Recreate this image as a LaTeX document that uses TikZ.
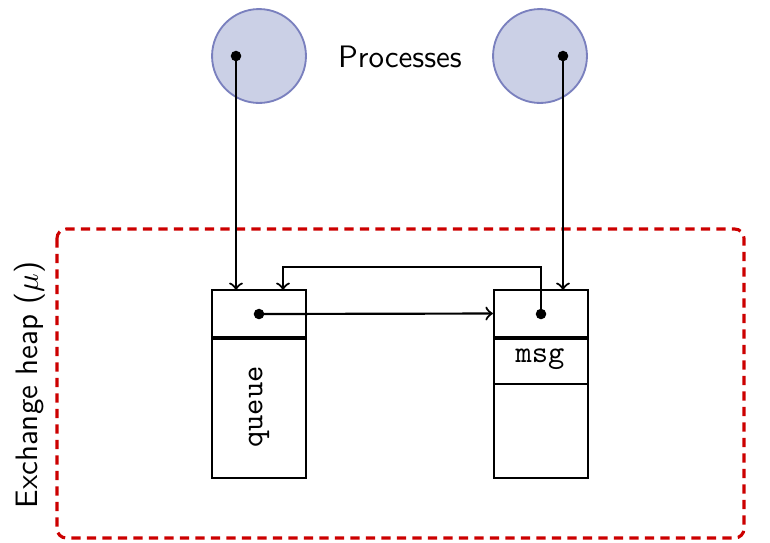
\documentclass[tikz,border=0pt]{standalone}
\usetikzlibrary{arrows}
\begin{document}
\begin{tikzpicture}[x=0.3226pt,y=-0.3226pt,
  proc/.style={circle,draw={rgb,255:red,122;green,128;blue,190},fill={rgb,255:red,203;green,208;blue,230},line width=0.6pt,minimum size=30.3pt,inner sep=0pt},
  cell/.style={draw,line width=0.75pt,minimum width=30.3pt,inner sep=0pt},
  conn/.style={line width=0.7pt,->},
  dotc/.style={circle,fill=black,inner sep=0pt,minimum size=3.4pt},
  lbl/.style={font=\sffamily}
]
\useasboundingbox (0,0) rectangle (770,542);
% exchange heap region
\draw[draw={rgb,255:red,204;green,0;blue,0},line width=1pt,dash pattern=on 3pt off 2pt,rounded corners=3pt] (57,229) rectangle (744,538);
\node[lbl,rotate=90] (heap) at (30,385) {Exchange heap ($\mu$)};
% processes
\node[proc] (p1) at (259,56) {};
\node[proc] (p2) at (540,56) {};
\node[lbl] (ptxt) at (400,57) {Processes};
\node[dotc] (d1) at (236,56) {};
\node[dotc] (d2) at (563,56) {};
% left box
\node[cell,minimum height=15.16pt] (lt) at (259,313.5) {};
\node[cell,minimum height=45.5pt] (lb) at (259,407.5) {};
\node[rotate=90,font=\ttfamily] (q) at (259,407) {queue};
% right box
\node[cell,minimum height=15.16pt] (rt) at (541,313.5) {};
\node[cell,minimum height=45.5pt] (rb) at (541,407.5) {};
\node[font=\ttfamily] (msg) at (540,359) {msg};
\draw[line width=0.4pt] (rb.west |- 0,384) -- (rb.east |- 0,384);
% dividers
\draw[line width=1.2pt] (lt.south west) -- (lt.south east);
\draw[line width=1.2pt] (rt.south west) -- (rt.south east);
% pointers
\node[dotc] (d3) at (259,314) {};
\node[dotc] (d4) at (541,314) {};
\coordinate (a1) at (236,290);
\coordinate (a2) at (563,290);
\coordinate (a3) at (283,290);
\draw[conn] (d1.center) -- (a1);
\draw[conn] (d2.center) -- (a2);
\draw[conn] (d3.center) -- (rt.west);
\draw[conn] (d4.center) -- (541,267) -- (283,267) -- (a3);
\end{tikzpicture}
\end{document}
